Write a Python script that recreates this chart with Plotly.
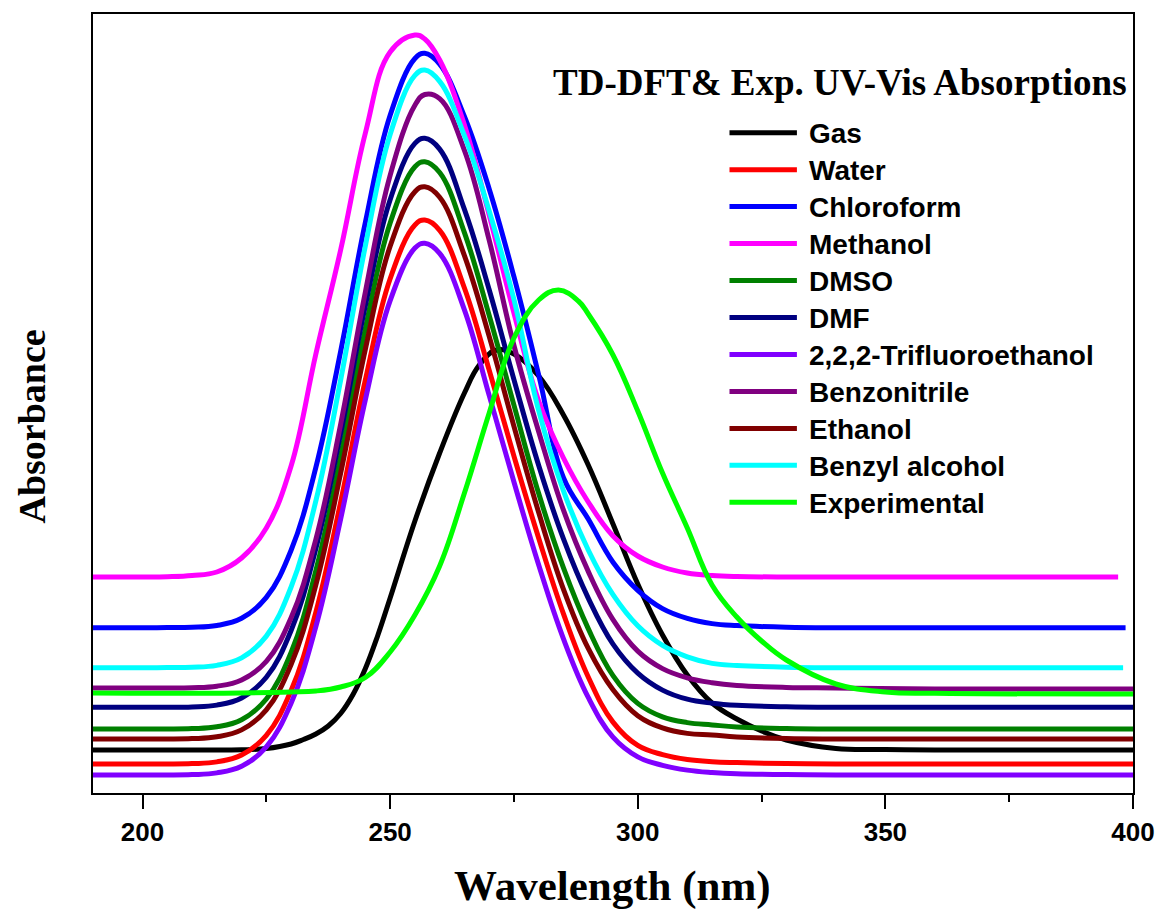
import plotly.graph_objects as go

# ---------------- data (arbitrary absorbance units) ----------------
WL = [190, 200, 205, 210, 215, 220, 225, 230, 235, 240, 245, 250, 255, 257, 260, 265,
      270, 275, 280, 285, 290, 295, 300, 305, 310, 315, 320, 330, 340, 360, 380]

water = [0.29, 0.29, 0.29, 0.294, 0.311, 0.379, 0.577, 1.024, 1.808, 2.907, 4.131, 5.142, 5.681, 5.73, 5.627, 5.05,
         4.229, 3.369, 2.548, 1.791, 1.16, 0.709, 0.476, 0.384, 0.335, 0.313, 0.304, 0.294, 0.29, 0.29, 0.29, 0.29]
chloroform = [1.653, 1.653, 1.654, 1.657, 1.675, 1.747, 1.956, 2.428, 3.256, 4.416, 5.708, 6.777, 7.345, 7.397, 7.288, 6.765,
              6.041, 5.163, 4.18, 3.152, 2.739, 2.308, 2.027, 1.844, 1.746, 1.694, 1.674, 1.658, 1.653, 1.653, 1.653, 1.653]
methanol = [2.16, 2.16, 2.163, 2.175, 2.21, 2.35, 2.65, 3.27, 4.39, 5.43, 6.60, 7.41, 7.58, 7.54, 7.33, 6.68,
            5.78, 4.80, 3.92, 3.35, 2.91, 2.57, 2.37, 2.26, 2.20, 2.175, 2.165, 2.16, 2.16, 2.16, 2.16, 2.16]
dmso = [0.64, 0.64, 0.64, 0.644, 0.662, 0.733, 0.94, 1.406, 2.223, 3.369, 4.645, 5.7, 6.262, 6.313, 6.205, 5.604,
        4.776, 3.879, 2.994, 2.251, 1.644, 1.174, 0.896, 0.761, 0.704, 0.681, 0.66, 0.645, 0.64, 0.64, 0.64, 0.64]
dmf = [0.857, 0.857, 0.857, 0.861, 0.879, 0.95, 1.157, 1.625, 2.445, 3.594, 4.874, 5.933, 6.496, 6.547, 6.439, 5.836,
       5.033, 4.134, 3.275, 2.541, 1.949, 1.489, 1.199, 1.029, 0.938, 0.898, 0.877, 0.862, 0.857, 0.857, 0.857, 0.857]
tfe = [0.18, 0.18, 0.18, 0.184, 0.201, 0.267, 0.461, 0.898, 1.663, 2.738, 3.934, 4.923, 5.449, 5.497, 5.396, 4.832,
       3.976, 3.11, 2.28, 1.541, 0.956, 0.558, 0.361, 0.277, 0.229, 0.205, 0.192, 0.184, 0.18, 0.18, 0.18, 0.18]
benzonitrile = [1.05, 1.05, 1.05, 1.053, 1.068, 1.13, 1.316, 1.752, 2.537, 3.685, 5.011, 6.176, 6.878, 6.985, 6.944, 6.426,
                5.528, 4.475, 3.613, 2.828, 2.216, 1.734, 1.419, 1.244, 1.152, 1.103, 1.076, 1.056, 1.05, 1.04, 1.04, 1.04]
ethanol = [0.54, 0.54, 0.54, 0.544, 0.562, 0.631, 0.832, 1.286, 2.081, 3.197, 4.439, 5.467, 6.013, 6.063, 5.958, 5.373,
           4.566, 3.666, 2.804, 2.037, 1.446, 1.032, 0.773, 0.652, 0.596, 0.58, 0.56, 0.544, 0.54, 0.54, 0.54, 0.54]
benzyl_alcohol = [1.253, 1.253, 1.254, 1.257, 1.276, 1.351, 1.569, 2.06, 2.921, 4.128, 5.473, 6.585, 7.176, 7.23, 7.116, 6.573,
                  5.819, 4.935, 3.823, 3.022, 2.43, 1.983, 1.672, 1.476, 1.362, 1.296, 1.275, 1.258, 1.253, 1.253, 1.253, 1.253]

# last wavelength of each TD-DFT curve
END_WL = {"Water": 400, "Chloroform": 398.5, "Methanol": 397, "DMSO": 400, "DMF": 400,
          "2,2,2-Trifluoroethanol": 400, "Benzonitrile": 400, "Ethanol": 400, "Benzyl alcohol": 398}

WL_GAS = [190, 210, 220, 225, 230, 232.5, 235, 237.5, 240, 242.5, 245, 247.5, 250, 255, 260, 265, 268, 271.5, 275, 280,
          285, 290, 295, 300, 305, 310, 315, 320, 325, 330, 340, 350, 360, 400]
gas = [0.43, 0.43, 0.432, 0.445, 0.49, 0.535, 0.59, 0.67, 0.795, 0.985, 1.245, 1.575, 1.95, 2.72, 3.40, 4.00, 4.28, 4.43, 4.39, 4.17,
       3.78, 3.28, 2.69, 2.09, 1.58, 1.18, 0.90, 0.74, 0.62, 0.53, 0.445, 0.435, 0.43, 0.43]

WL_EXP = [190, 220, 230, 235, 240, 245, 250, 255, 260, 265, 270, 275, 280, 284, 288,
          290, 295, 300, 305, 310, 315, 320, 325, 330, 340, 350, 360, 400]
experimental = [1.0, 1.0, 1.01, 1.02, 1.06, 1.155, 1.41, 1.78, 2.27, 3.0, 3.80, 4.55, 4.93, 5.03, 4.92,
                4.79, 4.38, 3.82, 3.20, 2.65, 2.08, 1.76, 1.52, 1.33, 1.09, 1.01, 0.997, 0.99]

NAMES = ["Gas", "Water", "Chloroform", "Methanol", "DMSO", "DMF", "2,2,2-Trifluoroethanol",
         "Benzonitrile", "Ethanol", "Benzyl alcohol", "Experimental"]
COLORS = ["#000000", "#FF0000", "#0000FF", "#FF00FF", "#008000", "#000080", "#8000FF",
          "#800080", "#800000", "#00FFFF", "#00FF00"]

X_TICKS = [200, 250, 300, 350, 400]
TITLE = "TD-DFT& Exp. UV-Vis Absorptions"

# ---------------- figure ----------------
W, H = 1167, 909
L, R, T, B = 93, 25, 14, 116
PW, PH = W - L - R, H - T - B


def xp(px):
    return (px - L) / PW


def yp(py):
    return (H - B - py) / PH


series = {
    "Gas": (WL_GAS, gas),
    "Water": (WL + [END_WL["Water"]], water),
    "Chloroform": (WL + [END_WL["Chloroform"]], chloroform),
    "Methanol": (WL + [END_WL["Methanol"]], methanol),
    "DMSO": (WL + [END_WL["DMSO"]], dmso),
    "DMF": (WL + [END_WL["DMF"]], dmf),
    "2,2,2-Trifluoroethanol": (WL + [END_WL["2,2,2-Trifluoroethanol"]], tfe),
    "Benzonitrile": (WL + [END_WL["Benzonitrile"]], benzonitrile),
    "Ethanol": (WL + [END_WL["Ethanol"]], ethanol),
    "Benzyl alcohol": (WL + [END_WL["Benzyl alcohol"]], benzyl_alcohol),
    "Experimental": (WL_EXP, experimental),
}

fig = go.Figure()
for name, color in zip(NAMES, COLORS):
    xs, ys = series[name]
    fig.add_trace(go.Scatter(x=xs, y=ys, mode="lines", name=name,
                             line=dict(color=color, width=5, shape="spline", smoothing=1.15),
                             showlegend=False))

sans = dict(family="Liberation Sans, Arial, sans-serif", size=26, color="black", weight="bold")
serif = "Liberation Serif, Times New Roman, serif"

fig.update_layout(
    width=W, height=H,
    margin=dict(l=L, r=R, t=T, b=B),
    paper_bgcolor="white", plot_bgcolor="white",
    xaxis=dict(range=[190, 400], tickvals=X_TICKS, ticktext=[str(v) for v in X_TICKS],
               ticks="outside", ticklen=14, tickwidth=2, tickcolor="black",
               showline=True, linecolor="black", linewidth=2, mirror=True,
               showgrid=False, zeroline=False, tickfont=sans, ticklabelstandoff=1,
               minor=dict(tickvals=[225, 275, 325, 375], ticks="outside", ticklen=7,
                          tickwidth=2, tickcolor="black", showgrid=False)),
    yaxis=dict(range=[0, 7.79], showticklabels=False, ticks="",
               showline=True, linecolor="black", linewidth=2, mirror=True,
               showgrid=False, zeroline=False),
)

annotations = [
    dict(text=TITLE, x=xp(846), y=yp(82), xref="paper", yref="paper",
         xanchor="center", yanchor="middle", showarrow=False,
         font=dict(family=serif, size=37, color="black", weight="bold")),
    dict(text="Wavelength (nm)", x=xp(617), y=yp(886), xref="paper", yref="paper",
         xanchor="center", yanchor="middle", showarrow=False,
         font=dict(family=serif, size=43, color="black", weight="bold")),
    dict(text="Absorbance", x=xp(31), y=yp(427), xref="paper", yref="paper",
         xanchor="center", yanchor="middle", showarrow=False, textangle=-90,
         font=dict(family=serif, size=38, color="black", weight="bold")),
]

shapes = []
row0, step = 132.7, 36.96
for i, (name, color) in enumerate(zip(NAMES, COLORS)):
    ry = row0 + i * step
    shapes.append(dict(type="line", xref="paper", yref="paper",
                       x0=xp(735), x1=xp(803), y0=yp(ry), y1=yp(ry),
                       line=dict(color=color, width=5)))
    annotations.append(dict(text=name, x=xp(813), y=yp(ry + 1), xref="paper", yref="paper",
                            xanchor="left", yanchor="middle", showarrow=False,
                            font=dict(family="Liberation Sans, Arial, sans-serif", size=28,
                                      color="black", weight="bold")))

fig.update_layout(annotations=annotations, shapes=shapes)

fig.write_html("out.html")
